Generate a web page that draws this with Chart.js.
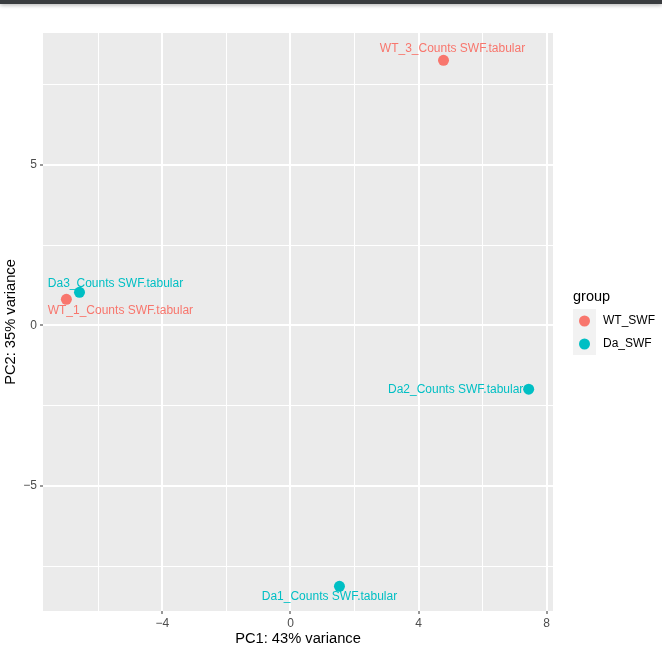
<!DOCTYPE html>
<html>
<head>
<meta charset="utf-8">
<script src="https://cdn.jsdelivr.net/npm/chart.js@4.4.1/dist/chart.umd.min.js"></script>
<style>
  html, body { margin: 0; padding: 0; background: #fff; }
  #wrap { position: relative; width: 662px; height: 652px; }
  #topbar { position: absolute; left: 0; top: 0; width: 662px; height: 4px; background: #393c3f; box-shadow: 0 1px 4px rgba(0,0,0,0.35); z-index: 2; }
  canvas { display: block; }
</style>
</head>
<body>
<div id="wrap">
  <div id="topbar"></div>
  <canvas id="pca" width="662" height="652"></canvas>
</div>
<script>
// PCA sample coordinates
const sampleNames = ['WT_1_Counts SWF.tabular', 'WT_3_Counts SWF.tabular', 'Da1_Counts SWF.tabular', 'Da2_Counts SWF.tabular', 'Da3_Counts SWF.tabular'];
const sampleGroups = ['WT_SWF', 'WT_SWF', 'Da_SWF', 'Da_SWF', 'Da_SWF'];
const pc1 = [-7.0, 4.78, 1.53, 7.44, -6.59];
const pc2 = [0.81, 8.26, -8.13, -1.99, 1.03];

const groupNames = ['WT_SWF', 'Da_SWF'];
const groupColors = ['#F8766D', '#00BFC4'];

const xTicks = [-6, -4, -2, 0, 2, 4, 6, 8];
const xMajor = [-4, 0, 4, 8];
const yTicks = [-7.5, -5, -2.5, 0, 2.5, 5, 7.5];
const yMajor = [-5, 0, 5];

// label text centre, offset in px from its point (repel-style placement)
const labelOffsets = [[54, 11], [9, -12], [-10, 10], [-73, 0], [36, -9]];

const FONT = "'Liberation Sans', Arial, sans-serif";

const datasets = groupNames.map((g, gi) => ({
  label: g,
  data: sampleNames
    .map((name, i) => ({ x: pc1[i], y: pc2[i], name: name, idx: i }))
    .filter((p, i) => sampleGroups[i] === g),
  backgroundColor: groupColors[gi],
  borderColor: groupColors[gi],
  pointRadius: 5.5,
  pointHoverRadius: 5.5,
  borderWidth: 0,
}));

const panelBg = {
  id: 'panelBg',
  beforeDraw(chart) {
    const { ctx, chartArea: a } = chart;
    ctx.save();
    ctx.fillStyle = '#EBEBEB';
    ctx.fillRect(a.left, a.top, a.right - a.left, a.bottom - a.top);
    ctx.restore();
  },
};

const pointLabels = {
  id: 'pointLabels',
  afterDatasetsDraw(chart) {
    const ctx = chart.ctx;
    ctx.save();
    ctx.font = '12px ' + FONT;
    ctx.textAlign = 'center';
    ctx.textBaseline = 'middle';
    chart.data.datasets.forEach((ds, di) => {
      const meta = chart.getDatasetMeta(di);
      meta.data.forEach((el, j) => {
        const p = ds.data[j];
        const off = labelOffsets[p.idx];
        ctx.fillStyle = ds.backgroundColor;
        ctx.fillText(p.name, el.x + off[0], el.y + off[1]);
      });
    });
    ctx.restore();
  },
};

const groupLegend = {
  id: 'groupLegend',
  afterDraw(chart) {
    const ctx = chart.ctx;
    const left = chart.chartArea.right + 20;
    ctx.save();
    ctx.fillStyle = '#000';
    ctx.font = '14.5px ' + FONT;
    ctx.textAlign = 'left';
    ctx.textBaseline = 'middle';
    ctx.fillText('group', left, 297);
    ctx.fillStyle = '#F2F2F2';
    ctx.fillRect(left, 309, 23, 23 * groupNames.length);
    groupNames.forEach((g, i) => {
      const cy = 321 + i * 23;
      ctx.fillStyle = groupColors[i];
      ctx.beginPath();
      ctx.arc(left + 11.5, cy, 5.5, 0, Math.PI * 2);
      ctx.fill();
      ctx.fillStyle = '#000';
      ctx.font = '12px ' + FONT;
      ctx.fillText(g, left + 30, cy);
    });
    ctx.restore();
  },
};

function gridOpts(major) {
  return {
    color: '#FFFFFF',
    lineWidth: (c) => (c.tick && major.includes(c.tick.value) ? 2 : 1),
    drawTicks: true,
    tickLength: 3,
    tickWidth: 1,
    tickColor: (c) => (c.tick && major.includes(c.tick.value) ? '#333333' : 'rgba(0,0,0,0)'),
  };
}

new Chart(document.getElementById('pca').getContext('2d'), {
  type: 'scatter',
  data: { datasets },
  options: {
    responsive: false,
    animation: false,
    layout: { padding: { top: 33, right: 109, bottom: 0, left: 0 } },
    plugins: { legend: { display: false }, tooltip: { enabled: false } },
    scales: {
      x: {
        type: 'linear',
        min: -7.73,
        max: 8.2,
        afterBuildTicks: (s) => { s.ticks = xTicks.map((v) => ({ value: v })); },
        afterFit: (s) => { s.height = 41; },
        grid: gridOpts(xMajor),
        border: { display: false },
        ticks: {
          autoSkip: false,
          maxRotation: 0,
          padding: 2,
          color: '#4D4D4D',
          font: { family: FONT, size: 12 },
          callback: (v) => (xMajor.includes(v) ? (v < 0 ? '\u2212' + Math.abs(v) : String(v)) : ''),
        },
        title: {
          display: true,
          text: 'PC1: 43% variance',
          color: '#000',
          font: { family: FONT, size: 14.7 },
          padding: { top: 0, bottom: 4 },
        },
      },
      y: {
        type: 'linear',
        min: -8.9,
        max: 9.11,
        afterBuildTicks: (s) => { s.ticks = yTicks.map((v) => ({ value: v })); },
        afterFit: (s) => { s.width = 43; },
        grid: gridOpts(yMajor),
        border: { display: false },
        ticks: {
          autoSkip: false,
          padding: 3,
          color: '#4D4D4D',
          font: { family: FONT, size: 12 },
          callback: (v) => (yMajor.includes(v) ? (v < 0 ? '\u2212' + Math.abs(v) : String(v)) : ''),
        },
        title: {
          display: true,
          text: 'PC2: 35% variance',
          color: '#000',
          font: { family: FONT, size: 14.7 },
          padding: { top: 2, bottom: 0 },
        },
      },
    },
  },
  plugins: [panelBg, pointLabels, groupLegend],
});
</script>
</body>
</html>
